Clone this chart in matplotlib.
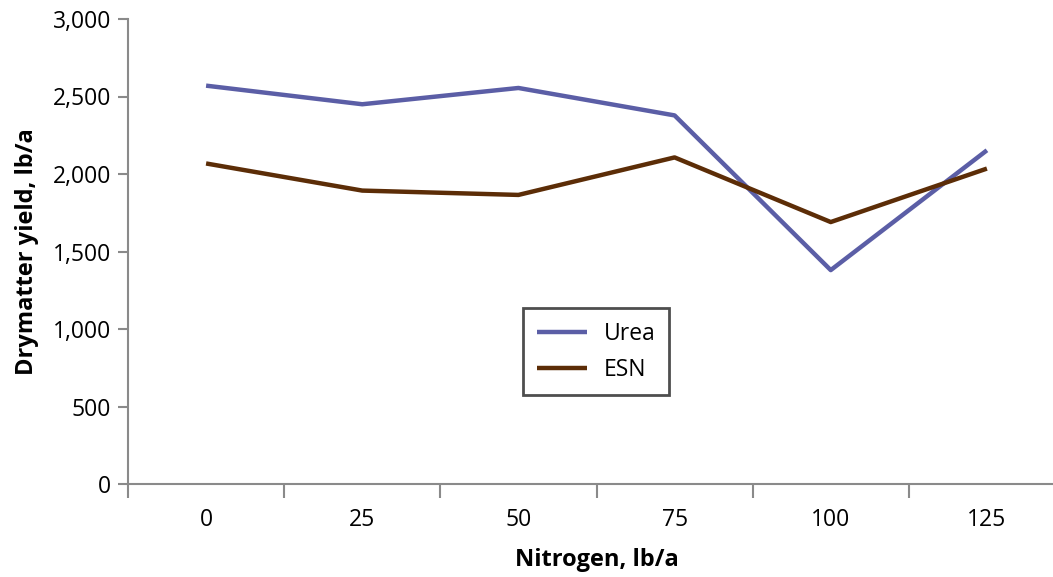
import matplotlib
matplotlib.use("Agg")
import matplotlib.pyplot as plt
import numpy as np

# Nitrogen rates (category labels)
nitrogen = ["0", "25", "50", "75", "100", "125"]
# Drymatter yield, lb/a
urea = [2570, 2450, 2555, 2378, 1380, 2153]
esn = [2068, 1893, 1865, 2107, 1690, 2035]

plt.rcParams['font.family'] = ['Open Sans', 'DejaVu Sans']

fig = plt.figure(figsize=(10.53, 5.77), dpi=100)
ax = fig.add_axes([128 / 1053, 93 / 577, 937 / 1053, 465 / 577])

x = np.arange(len(nitrogen))
ax.plot(x, urea, color="#5b5ea6", lw=3.2, label="Urea", solid_capstyle="butt")
ax.plot(x, esn, color="#5c2d07", lw=3.2, label="ESN", solid_capstyle="butt")

ax.set_xlim(-0.5, len(nitrogen) - 0.5)
ax.set_ylim(0, 3000)
ax.set_yticks(np.arange(0, 3001, 500))
ax.set_yticklabels([f"{v:,}" for v in range(0, 3001, 500)])
ax.set_xticks(x)
ax.set_xticklabels(nitrogen)
ax.set_xticks(np.arange(-0.5, len(nitrogen), 1), minor=True)

gray = "#8a8a8a"
for side in ["top", "right"]:
    ax.spines[side].set_visible(False)
for side in ["left", "bottom"]:
    ax.spines[side].set_color(gray)
    ax.spines[side].set_linewidth(1.5)

ax.tick_params(axis="y", which="major", length=7, width=1.5, color=gray,
               labelsize=16.5, pad=5)
ax.tick_params(axis="x", which="major", length=0, labelsize=16.5, pad=17)
ax.tick_params(axis="x", which="minor", length=10, width=1.5, color=gray)

ax.set_xlabel("Nitrogen, lb/a", fontsize=17, fontweight="bold", labelpad=12)
ax.set_ylabel("Drymatter yield, lb/a", fontsize=17, fontweight="bold", labelpad=10)

leg = ax.legend(loc="center", bbox_to_anchor=(0.4995, 0.284), fontsize=16.5,
                frameon=True, fancybox=False, handlelength=2.2,
                borderpad=0.6, labelspacing=0.5, handletextpad=0.7)
leg.get_frame().set_edgecolor("#222222")
leg.get_frame().set_linewidth(2)

fig.savefig("out.png", dpi=100)
